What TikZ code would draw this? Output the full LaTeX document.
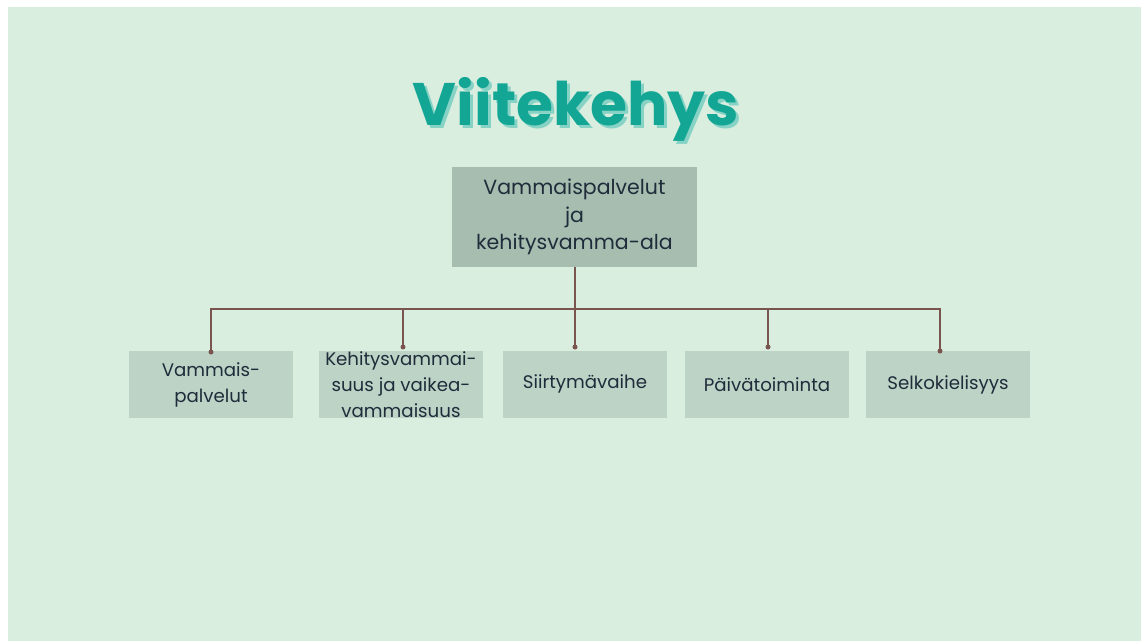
\documentclass[tikz,border=0pt]{standalone}
\usepackage{fontspec}
\setmainfont{Poppins}
\newfontfamily\poppinsbold{Poppins}[UprightFont=* Bold]
\definecolor{bggreen}{HTML}{DAEEE0}
\definecolor{titlecol}{HTML}{13A694}
\definecolor{shadowcol}{HTML}{86D3C6}
\definecolor{topfill}{HTML}{A7BDB0}
\definecolor{childfill}{HTML}{BDD3C6}
\definecolor{textcol}{HTML}{1F2C3A}
\definecolor{linecol}{HTML}{7A5550}
\begin{document}
\begin{tikzpicture}[x=1pt,y=-1pt,
  topbox/.style={fill=topfill, draw=none, minimum width=245pt, minimum height=100pt, inner sep=0pt, align=center, text=textcol, font=\fontsize{20.5}{27.5}\selectfont},
  childbox/.style={fill=childfill, draw=none, minimum width=164pt, minimum height=67pt, inner sep=0pt, align=center, text=textcol, font=\fontsize{18.2}{26}\selectfont},
  conn/.style={draw=linecol, line width=1.6pt},
  dotmark/.style={fill=linecol, circle, inner sep=0pt, minimum size=5pt}]
\useasboundingbox (0,0) rectangle (1141,641);
\fill[white] (0,0) rectangle (1141,641);
\fill[bggreen] (8,7) rectangle (1141,641);
% title
\node[text=shadowcol, font=\poppinsbold\fontsize{60}{60}\selectfont, inner sep=0pt] (titleshadow) at (579,112) {Viitekehys};
\node[text=titlecol, font=\poppinsbold\fontsize{60}{60}\selectfont, inner sep=0pt] (title) at (576,109) {Viitekehys};
% top box
\node[topbox] (top) at (574.5,217) {Vammaispalvelut\\ja\\kehitysvamma-ala};
% children
\node[childbox] (c1) at (211,384.5) {Vammais-\\palvelut};
\node[childbox] (c2) at (401,384.5) {Kehitysvammai-\\suus ja vaikea-\\vammaisuus};
\node[childbox] (c3) at (585,384) {Siirtymävaihe};
\node[childbox] (c4) at (767,384.5) {Päivätoiminta};
\node[childbox] (c5) at (948,384.5) {Selkokielisyys};
% connectors
\coordinate (j) at (575,309);
\coordinate (d1) at (211,352);
\coordinate (d2) at (403,347);
\coordinate (d3) at (575,347);
\coordinate (d4) at (768,347);
\coordinate (d5) at (940,351);
\draw[conn] (top.south -| j) -- (j);
\foreach \d in {d1,d2,d3,d4,d5}{\draw[conn] (j) -| (\d);}
\foreach \d in {d1,d2,d3,d4,d5}{\node[dotmark] at (\d) {};}
\end{tikzpicture}
\end{document}
